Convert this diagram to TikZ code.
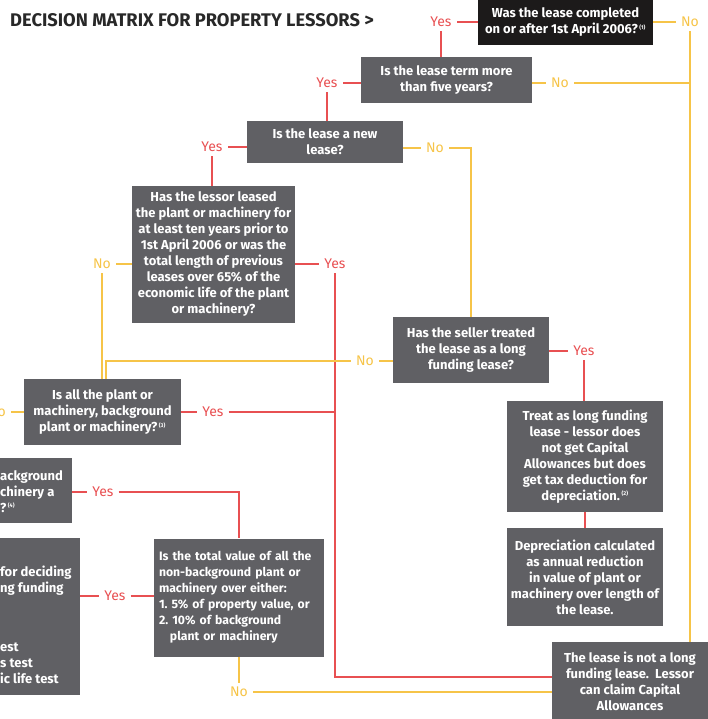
\documentclass[tikz,border=0pt]{standalone}
\usepackage{fontspec}
\setmainfont{Fira Sans}
\usetikzlibrary{calc}
\definecolor{boxgrey}{RGB}{96,96,100}
\definecolor{boxblack}{RGB}{28,26,26}
\definecolor{yesred}{RGB}{232,80,82}
\definecolor{noyellow}{RGB}{246,196,72}
\definecolor{titlegrey}{RGB}{40,40,40}
\newcommand{\noteref}[1]{\textsuperscript{\,\fontsize{5.5}{5.5}\selectfont(#1)}}

\begin{document}
\begin{tikzpicture}[x=1pt,y=-1pt,
    greybox/.style={rectangle,fill=boxgrey,text=white,align=center,inner sep=0pt,
                    font=\bfseries\fontsize{13}{16}\selectfont},
    blackbox/.style={greybox,fill=boxblack},
    yes/.style={text=yesred,inner xsep=5pt,inner ysep=4pt,font=\fontsize{14}{15}\selectfont},
    no/.style={yes,text=noyellow},
    redline/.style={draw=yesred,line width=1.4pt},
    yellowline/.style={draw=noyellow,line width=1.4pt}]

  \useasboundingbox (0,0) rectangle (708,719);
  \clip (0,0) rectangle (708,719);

  \node[anchor=west,inner sep=0pt,text=titlegrey,font=\bfseries\fontsize{18.3}{18}\selectfont]
        (title) at (10,20) {DECISION MATRIX FOR PROPERTY LESSORS >};

  % questions
  \node[blackbox,minimum width=175,minimum height=46] (q1) at (565.5,22)
        {Was the lease completed\\on or after 1st\ April 2006?\noteref{1}};
  \node[greybox,minimum width=171,minimum height=46] (q2) at (446.5,80)
        {Is the lease term more\\than five years?};
  \node[greybox,minimum width=156,minimum height=42] (q3) at (325,142)
        {Is the lease a new\\lease?};
  \node[greybox,minimum width=163,minimum height=137] (q4) at (213.5,254.5)
        {Has the lessor leased\\the plant or machinery for\\at least ten years prior to\\1st April 2006 or was the\\total length of previous\\leases over 65\% of the\\economic life of the plant\\or machinery?};
  \node[greybox,minimum width=157,minimum height=66] (q5) at (102.5,412)
        {Is all the plant or\\machinery, background\\plant or machinery?\noteref{3}};
  \node[greybox,minimum width=156,minimum height=66] (q6) at (471,350)
        {Has the seller treated\\the lease as a long\\funding lease?};
  \node[greybox,minimum width=92,minimum height=65] (q7) at (26,490.5) {};
  \node[anchor=west,inner sep=0pt,text=white,align=left,
        font=\bfseries\fontsize{13}{16}\selectfont] (q7text) at (0,491.5)
        {ackground\\chinery a\\?\noteref{4}};
  \node[greybox,minimum width=170,minimum height=118,text width=160,align=left,
        font=\bfseries\fontsize{12.2}{16}\selectfont] (q8) at (239,597.5)
        {Is the total value of all the\\non-background plant or\\machinery over either:\\1.\ 5\% of property value, or\\2.\ 10\% of background\\\hspace*{0.9em}plant or machinery};
  \node[greybox,minimum width=100,minimum height=157] (q9) at (30,616.5) {};
  \node[anchor=west,inner sep=0pt,text=white,align=left,
        font=\bfseries\fontsize{13}{16}\selectfont] (q9text) at (0,625)
        {for deciding\\ng funding\\[43pt]est\\s test\\ic life test};

  % results
  \node[greybox,minimum width=156,minimum height=111] (r1) at (585,456.5)
        {Treat as long funding\\lease - lessor does\\not get Capital\\Allowances but does\\get tax deduction for\\depreciation.\noteref{2}};
  \node[greybox,minimum width=156,minimum height=98] (r2) at (585,577)
        {Depreciation calculated\\as annual reduction\\in value of plant or\\machinery over length of\\the lease.};
  \node[greybox,minimum width=156,minimum height=78] (fin) at (630,681)
        {The lease is not a long\\funding lease.\ \ Lessor\\can claim Capital\\Allowances};

  % answers
  \node[yes] (yes1) at (441,22) {Yes};
  \node[no]  (no1)  at (690,22) {No};
  \node[yes] (yes2) at (327,83) {Yes};
  \node[no]  (no2)  at (560,83) {No};
  \node[yes] (yes3) at (212,147) {Yes};
  \node[no]  (no3)  at (435,148) {No};
  \node[no]  (no4)  at (102,264) {No};
  \node[yes] (yes4) at (335,264) {Yes};
  \node[no]  (no5)  at (-3,412) {No};
  \node[yes] (yes5) at (213,412) {Yes};
  \node[no]  (no6)  at (365,361) {No};
  \node[yes] (yes6) at (584,351) {Yes};
  \node[yes] (yes7) at (103,492) {Yes};
  \node[yes] (yes9) at (115,596) {Yes};
  \node[no]  (no8)  at (239,692) {No};

  % red connectors
  \draw[redline] (q1.west |- yes1) -- (yes1.east);
  \draw[redline] (yes1.south) -- (yes1.south |- q2.north);
  \draw[redline] (q2.west |- yes2) -- (yes2.east);
  \draw[redline] (yes2.south) -- (yes2.south |- q3.north);
  \draw[redline] (q3.west |- yes3) -- (yes3.east);
  \draw[redline] (yes3.south) -- (yes3.south |- q4.north);
  \draw[redline] (q4.east |- yes4) -- (yes4.west);
  \draw[redline] (yes4.south) |- ($(fin.west)+(0,-4)$);
  \draw[redline] (q5.east |- yes5) -- (yes5.west);
  \draw[redline] (yes5.east) -- (yes5 -| yes4.south);
  \draw[redline] (q6.east |- yes6) -- (yes6.west);
  \draw[redline] (yes6.south) -- (yes6.south |- r1.north);
  \draw[redline] (r1.south) -- (r2.north);
  \draw[redline] (q7.east |- yes7) -- (yes7.west);
  \draw[redline] (yes7.east) -| (q8.north);
  \draw[redline] (q9.east |- yes9) -- (yes9.west);
  \draw[redline] (yes9.east) -- (yes9 -| q8.west);

  % yellow connectors
  \draw[yellowline] (q1.east |- no1) -- (no1.west);
  \draw[yellowline] (no1.south) -- (no1.south |- fin.north);
  \draw[yellowline] (q2.east |- no2) -- (no2.west);
  \draw[yellowline] (no2.east) -- (no2 -| no1.south);
  \draw[yellowline] (q3.east |- no3) -- (no3.west);
  \draw[yellowline] (no3.east) -| (q6.north);
  \draw[yellowline] (q4.west |- no4) -- (no4.east);
  \draw[yellowline] (no4.south) -- (no4.south |- q5.north);
  \draw[yellowline] (q5.west |- no5) -- (no5.east);
  \draw[yellowline] (q6.west |- no6) -- (no6.east);
  \draw[yellowline] (no6.west) -| ($(no4.south |- q5.north)+(4,0)$);
  \draw[yellowline] (q8.south) -- (no8.north);
  \draw[yellowline] (no8.east) -- (no8 -| fin.west);
\end{tikzpicture}
\end{document}
